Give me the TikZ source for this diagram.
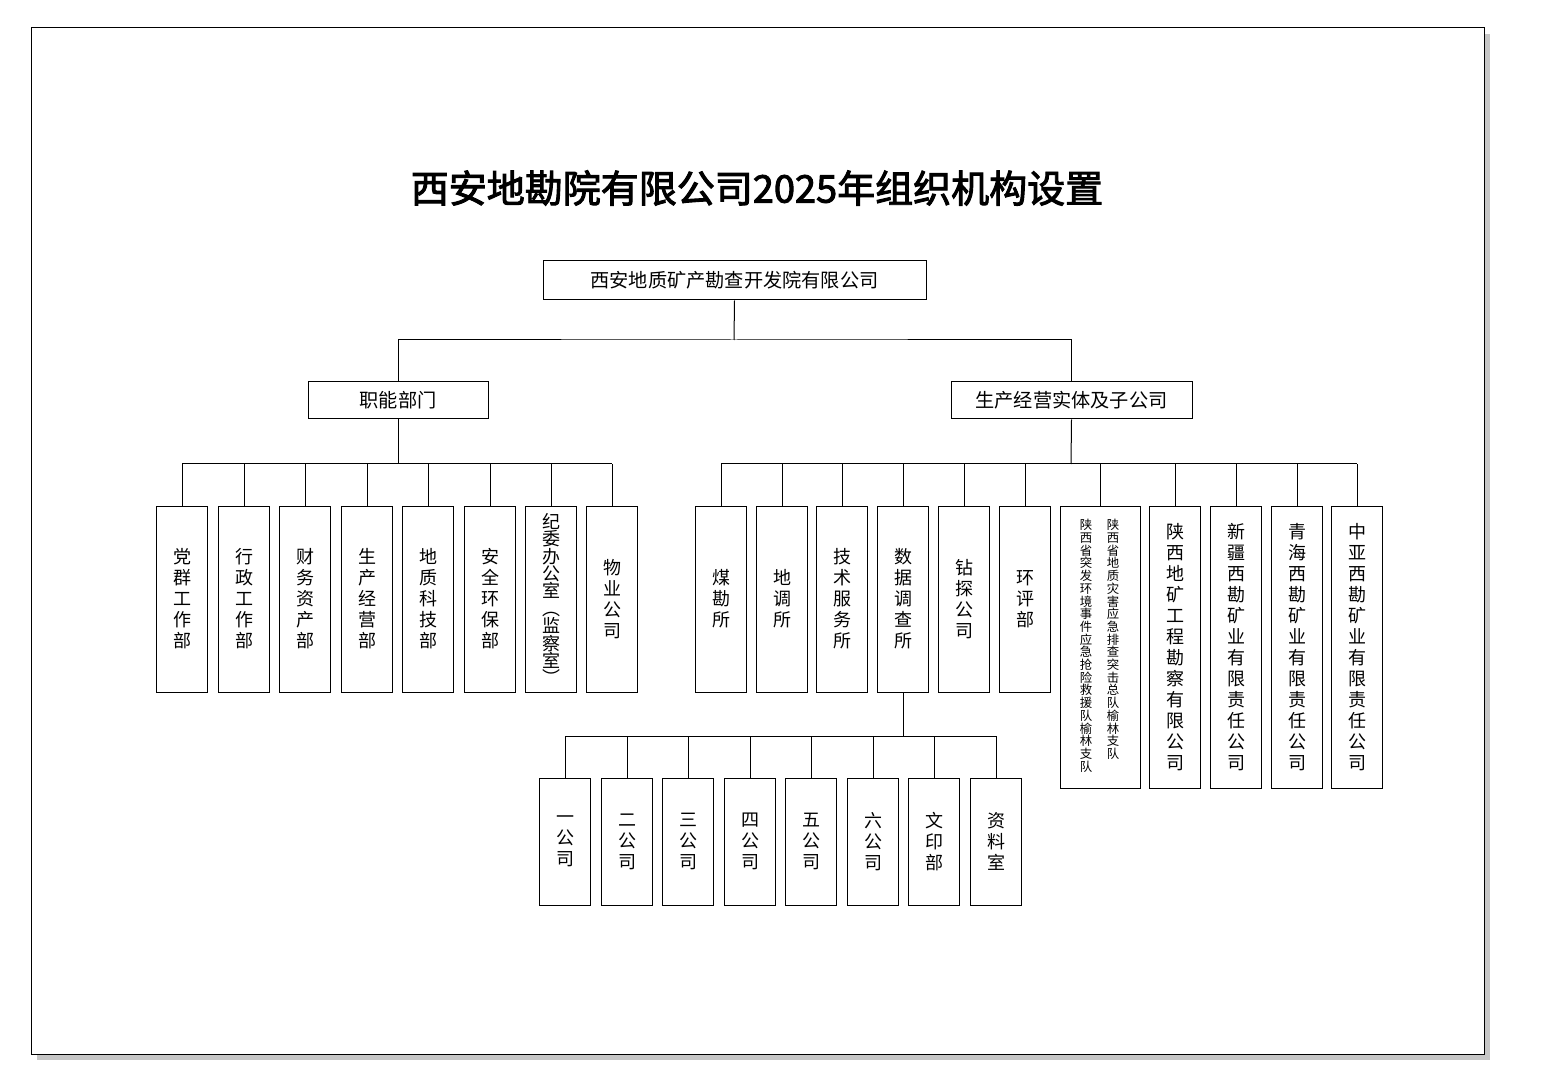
\documentclass[tikz,border=0pt]{standalone}
\usepackage{fontspec}
\setmainfont{Noto Sans CJK SC}[AutoFakeBold=2.5]
\XeTeXlinebreaklocale "zh"
\XeTeXlinebreakskip=0pt plus 1pt
\begin{document}
\begin{tikzpicture}[x=0.5pt,y=-0.5pt,
  ln/.style={line width=0.5pt},
  hbox/.style={draw,line width=0.5pt,font=\fontsize{9.6}{11}\selectfont,inner sep=0},
  vbox/.style={draw,line width=0.5pt,minimum width=25.5pt,text width=10pt,align=center,inner sep=0,font=\fontsize{9}{10.5}\selectfont},
  vtxt/.style={text width=6.5pt,align=center,inner sep=0,font=\fontsize{6.2}{6.35}\selectfont,anchor=north}]
\useasboundingbox (0,0) rectangle (1542,1080);
\fill[gray!45] (37,34) rectangle (1490,1060);
\draw[ln,fill=white] (31,28) rectangle (1484,1054);
\node[font=\fontsize{19}{21}\selectfont\bfseries] (title) at (757,188) {西安地勘院有限公司2025年组织机构设置};
\node[hbox,minimum width=191.5pt,minimum height=19.5pt] (top) at (734.5,280.5) {西安地质矿产勘查开发院有限公司};
\node[hbox,minimum width=90pt,minimum height=18.5pt] (zn) at (398,400.5) {职能部门};
\node[hbox,minimum width=120.5pt,minimum height=18.5pt] (sc) at (1071.5,400.5) {生产经营实体及子公司};
\coordinate (t1) at (734,340);
\draw[ln] (top.south) -- (t1);
\draw[ln] (zn.north) |- (t1) -| (sc.north);
% left departments
\coordinate (lb) at (398,464);
\draw[ln] (zn.south) -- (lb);
\foreach \n/\x/\t in {a1/182/党群工作部,a2/244/行政工作部,a3/305/财务资产部,a4/367/生产经营部,a5/428/地质科技部,a6/490/安全环保部,a8/612/物业公司}{
  \node[vbox,minimum height=93pt] (\n) at (\x,599) {\t};
  \draw[ln] (\n.north) -- (\x,464);
}
\node[vbox,minimum height=93pt,font=\fontsize{9}{8.7}\selectfont] (a7) at (551,599) {纪\\委\\办\\公\\室\\︵\\监\\察\\室\\︶};
\draw[ln] (a7.north) -- (551,464);
\draw[ln] (182,464) -- (612,464);
% right
\draw[ln] (sc.south) -- (1071,464);
\draw[ln] (721,464) -- (1357,464);
\foreach \n/\x/\t in {b1/721/煤勘所,b2/782/地调所,b3/842/技术服务所,b4/903/数据调查所,b5/964/钻探公司,b6/1025/环评部}{
  \node[vbox,minimum height=93pt] (\n) at (\x,599) {\t};
  \draw[ln] (\n.north) -- (\x,464);
}
\node[draw,line width=0.5pt,minimum width=40pt,minimum height=141pt,inner sep=0] (w) at (1100,647) {};
\draw[ln] (w.north) -- (1100,464);
\node[vtxt] (w1) at (1113,519) {陕西省地质灾害应急排查突击总队榆林支队};
\node[vtxt] (w2) at (1086,519) {陕西省突发环境事件应急抢险救援队榆林支队};
\foreach \n/\x/\t in {c1/1175/陕西地矿工程勘察有限公司,c2/1236/新疆西勘矿业有限责任公司,c3/1297/青海西勘矿业有限责任公司,c4/1357/中亚西勘矿业有限责任公司}{
  \node[vbox,minimum height=141pt] (\n) at (\x,647) {\t};
  \draw[ln] (\n.north) -- (\x,464);
}
% data sub
\draw[ln] (b4.south) -- (903,736);
\draw[ln] (565,736) -- (996,736);
\foreach \n/\x/\t in {d1/565/一公司,d2/627/二公司,d3/688/三公司,d4/750/四公司,d5/811/五公司,d6/873/六公司,d7/934/文印部,d8/996/资料室}{
  \node[vbox,minimum height=63.5pt] (\n) at (\x,841.5) {\t};
  \draw[ln] (\n.north) -- (\x,736);
}
\end{tikzpicture}
\end{document}
